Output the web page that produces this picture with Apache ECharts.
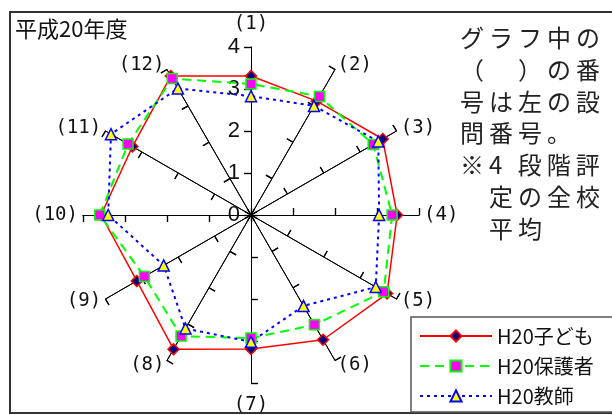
<!DOCTYPE html>
<html>
<head>
<meta charset="utf-8">
<script src="https://cdn.jsdelivr.net/npm/echarts@6/dist/echarts.min.js"></script>
<style>
  html, body { margin: 0; padding: 0; background: #fff; }
  #frame { position: absolute; left: 9px; top: 11px; width: 640px; height: 403px; border: 2px solid #333; box-sizing: border-box; }
  #chart { position: absolute; left: 0; top: 0; width: 612px; height: 415px; }
  #note { position: absolute; left: 460px; top: 21px; font-family: "Noto Sans CJK JP"; font-size: 24px; line-height: 31.8px; letter-spacing: 5px; color: #222; white-space: pre; }
</style>
</head>
<body>
<div id="frame"></div>
<div id="chart"></div>
<div id="note">グラフ中の
（　）の番
号は左の設
問番号。
※4 段階評
　定の全校
　平均</div>
<script>
// 設問番号
const axisNames = ["(1)", "(2)", "(3)", "(4)", "(5)", "(6)", "(7)", "(8)", "(9)", "(10)", "(11)", "(12)"];
const tickLabels = ["0", "1", "2", "3", "4"];
// 4段階評定の全校平均 (設問1〜12)
const kodomo = [3.31, 3.13, 3.62, 3.48, 3.74, 3.43, 3.19, 3.69, 3.14, 3.57, 3.26, 3.82];
const hogosha = [3.12, 3.26, 3.36, 3.36, 3.65, 3.02, 2.93, 3.33, 2.93, 3.6, 3.38, 3.75];
const kyoshi = [2.83, 3.0, 3.5, 3.05, 3.43, 2.5, 3.02, 3.12, 2.4, 3.4, 3.85, 3.48];

// radar goes counterclockwise, so (1) then (12), (11) ... (2)
const order = [0, 11, 10, 9, 8, 7, 6, 5, 4, 3, 2, 1];
const pick = (arr) => order.map((i) => arr[i]);

const chart = echarts.init(document.getElementById("chart"));

const radarCommon = {
  center: [251, 215],
  radius: 168,
  startAngle: 90,
  splitNumber: 4,
  shape: "polygon",
  splitLine: { show: false },
  splitArea: { show: false },
  axisLine: { lineStyle: { color: "#000", width: 1 } },
};

const seriesStyles = [
  { name: "H20子ども", values: kodomo, symbol: "diamond", symbolSize: 11,
    lineStyle: { color: "#ff0000", width: 1.5, type: "solid" },
    itemStyle: { color: "#000080", borderColor: "#ff0000", borderWidth: 1.5 } },
  { name: "H20保護者", values: hogosha, symbol: "rect", symbolSize: 10,
    lineStyle: { color: "#00ff00", width: 2, type: [9, 6] },
    itemStyle: { color: "#ff00ff", borderColor: "#00ff00", borderWidth: 1.5 } },
  { name: "H20教師", values: kyoshi, symbol: "triangle", symbolSize: 11,
    lineStyle: { color: "#0000ff", width: 2, type: [3, 4] },
    itemStyle: { color: "#ffff00", borderColor: "#0000ff", borderWidth: 1.5 } },
];

// empty line series only so the legend shows line + marker icons
const legendSeries = seriesStyles.map((s) => ({
  type: "line",
  name: s.name,
  data: [],
  symbol: s.symbol,
  symbolSize: s.symbolSize,
  lineStyle: s.lineStyle,
  itemStyle: s.itemStyle,
}));

const radarSeries = seriesStyles.map((s) => ({
  type: "radar",
  radarIndex: 0,
  symbol: s.symbol,
  symbolSize: s.symbolSize,
  lineStyle: s.lineStyle,
  itemStyle: s.itemStyle,
  data: [{ name: s.name, value: pick(s.values) }],
}));

chart.setOption({
  animation: false,
  title: {
    text: "平成20年度",
    left: 10,
    top: 13,
    textStyle: { fontFamily: "Noto Sans CJK JP", fontSize: 22, fontWeight: "normal", color: "#111" },
  },
  grid: { left: 0, top: 0, width: 1, height: 1, show: false },
  xAxis: { show: false, type: "value" },
  yAxis: { show: false, type: "value" },
  legend: {
    orient: "vertical",
    left: 411,
    top: 317,
    padding: [9, 60, 6, 8],
    itemGap: 10,
    itemWidth: 72,
    itemHeight: 14,
    borderColor: "#555",
    borderWidth: 1.5,
    backgroundColor: "#fff",
    textStyle: { fontFamily: "Noto Sans CJK JP", fontSize: 20, color: "#111" },
    data: seriesStyles.map((s) => s.name),
  },
  radar: [
    Object.assign({}, radarCommon, {
      indicator: order.map((i) => {
        const ind = { name: axisNames[i], min: 0, max: 4 };
        // only (1) carries the 0-4 scale
        if (i !== 0) ind.axisLabel = { show: false };
        if (i === 0 || i === 6) ind.nameGap = 13;
        return ind;
      }),
      nameGap: 5,
      axisName: { color: "#111", fontSize: 19, fontFamily: "DejaVu Sans Mono" },
      axisTick: { show: true, length: 7, inside: false, lineStyle: { color: "#000", width: 1.2 } },
      axisLabel: {
        show: true,
        fontSize: 22,
        color: "#111",
        margin: 11,
        padding: [8, 0, 0, 0],
        fontFamily: "Liberation Sans",
        formatter: (v) => tickLabels[Math.round(v)],
      },
    }),
    Object.assign({}, radarCommon, {
      indicator: order.map(() => ({ name: "", min: 0, max: 4 })),
      axisName: { show: false },
      axisTick: { show: true, length: 7, inside: true, lineStyle: { color: "#000", width: 1.2 } },
      axisLabel: { show: false },
    }),
  ],
  series: legendSeries.concat(radarSeries),
});
</script>
</body>
</html>
